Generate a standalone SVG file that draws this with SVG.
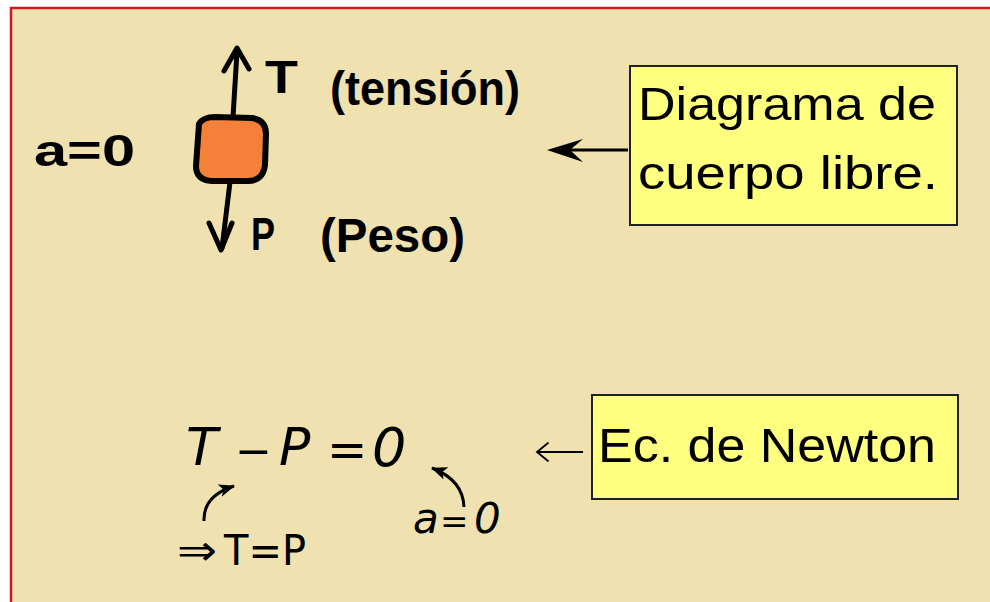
<svg xmlns="http://www.w3.org/2000/svg" width="990" height="602" viewBox="0 0 990 602">
<defs>
<style>
.hand{font-family:"Liberation Sans","DejaVu Sans",sans-serif;font-weight:bold;fill:#000}
.box{fill:#FFFF80;stroke:#222;stroke-width:2}
.boxt{font-family:"Liberation Sans","DejaVu Sans",sans-serif;fill:#000}
.math{font-family:"DejaVu Sans","Liberation Sans",sans-serif;fill:#000}
.ink{fill:none;stroke:#000;stroke-linecap:round;stroke-linejoin:round}
</style>
<marker id="ah" viewBox="0 0 16 13" refX="15" refY="6.5" markerWidth="16" markerHeight="13" markerUnits="userSpaceOnUse" orient="auto">
<path d="M0,0 L16,6.5 L0,13 L4,6.5 Z" fill="#000"/>
</marker>
</defs>
<rect x="0" y="0" width="990" height="602" fill="#fff"/>
<rect x="11" y="8" width="990" height="600" fill="#EFE2B0" stroke="#D01818" stroke-width="2.5"/>

<g id="free-body">
<text class="hand" x="34" y="166" font-size="44" textLength="101" lengthAdjust="spacingAndGlyphs">a=0</text>
<path d="M199,124 Q203,117 215,117 L252,118 Q266,120 266,134 L265,165 Q263,181 248,181 L212,181 Q196,180 196,166 Z" fill="#F5803A" stroke="#000" stroke-width="6" stroke-linejoin="round"/>
<path class="ink" d="M233,117 L237,52" stroke-width="5"/>
<path class="ink" d="M224,71 L237,48 L249,69" stroke-width="5"/>
<path class="ink" d="M230,182 L222,248" stroke-width="5"/>
<path class="ink" d="M209,223 L221,250 L232,223" stroke-width="5"/>
<text class="hand" x="265" y="93" font-size="46" textLength="33" lengthAdjust="spacingAndGlyphs">T</text>
<text class="hand" x="330" y="105" font-size="48" textLength="190" lengthAdjust="spacingAndGlyphs">(tensión)</text>
<text class="hand" x="251" y="250" font-size="46" textLength="24" lengthAdjust="spacingAndGlyphs">P</text>
<text class="hand" x="320" y="252" font-size="48" textLength="145" lengthAdjust="spacingAndGlyphs">(Peso)</text>
</g>

<g id="box-diagrama">
<rect class="box" x="630" y="66" width="327" height="159"/>
<text class="boxt" x="638" y="120" font-size="46" textLength="298" lengthAdjust="spacingAndGlyphs">Diagrama de</text>
<text class="boxt" x="638" y="189" font-size="46" textLength="300" lengthAdjust="spacingAndGlyphs">cuerpo libre.</text>
</g>

<g id="equation">
<text class="math" font-style="italic" font-size="52" y="465"><tspan x="186">T</tspan><tspan x="279">P</tspan></text>
<text class="math" font-style="italic" font-size="54" y="466" x="372">0</text>
<text class="math" font-size="44" y="466" x="235">−</text>
<text class="math" font-size="48" y="466" x="327">=</text>
<text class="math" font-style="italic" font-size="42" y="533" x="413">a</text>
<text class="math" font-size="34" y="533" x="440">=</text>
<text class="math" font-style="italic" font-size="42" y="533" x="474">0</text>
<text class="math" font-size="42" y="565" x="177" textLength="40" lengthAdjust="spacingAndGlyphs">⇒</text>
<text class="math" font-size="42" y="565" x="224" textLength="82" lengthAdjust="spacingAndGlyphs">T=P</text>
</g>

<g id="box-newton">
<rect class="box" x="592" y="395" width="366" height="104"/>
<text class="boxt" x="598" y="462" font-size="48" textLength="338" lengthAdjust="spacingAndGlyphs">Ec. de Newton</text>
</g>

<g id="connectors">
<path d="M628,150 L560,150" stroke="#000" stroke-width="3" fill="none"/>
<path d="M547,150 L583,139 L570,150 L583,162 Z" fill="#000"/>
<path d="M583,452 L538,452" stroke="#000" stroke-width="1.8" fill="none"/>
<path d="M548,443 L537,452 L548,461" stroke="#000" stroke-width="1.8" fill="none" stroke-linecap="round"/>
<path d="M204,521 Q203,496 234,486" stroke="#000" stroke-width="3" fill="none" marker-end="url(#ah)"/>
<path d="M464,507 Q463,480 432,468" stroke="#000" stroke-width="3" fill="none" marker-end="url(#ah)"/>
</g>
</svg>
